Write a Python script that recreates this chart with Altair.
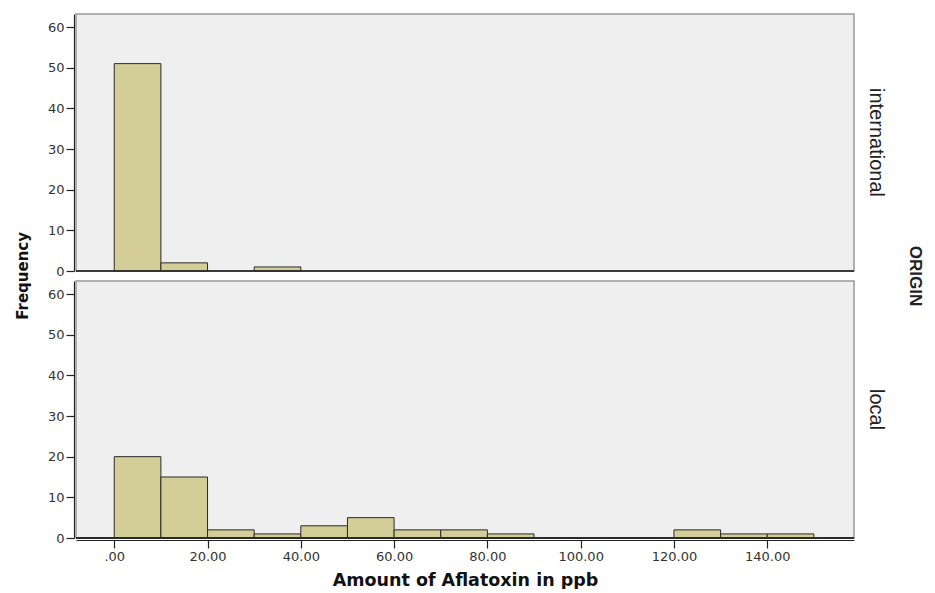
import altair as alt
import pandas as pd

# ---- data (bin width 10 ppb) ----
intl_bin_start = [0, 10, 30]
intl_frequency = [51, 2, 1]
local_bin_start = [0, 10, 20, 30, 40, 50, 60, 70, 80, 120, 130, 140]
local_frequency = [20, 15, 2, 1, 3, 5, 2, 2, 1, 2, 1, 1]
bin_width = 10
x_ticks = [0, 20, 40, 60, 80, 100, 120, 140]
y_ticks = [0, 10, 20, 30, 40, 50, 60]

rows = []
for s, f in zip(intl_bin_start, intl_frequency):
    rows.append({"origin": "international", "bin_start": s, "bin_end": s + bin_width, "frequency": f})
for s, f in zip(local_bin_start, local_frequency):
    rows.append({"origin": "local", "bin_start": s, "bin_end": s + bin_width, "frequency": f})
df = pd.DataFrame(rows)

bars = alt.Chart().mark_rect(
    fill="#d3ce97", stroke="#2a2a2a", strokeWidth=1
).encode(
    x=alt.X(
        "bin_start:Q",
        scale=alt.Scale(domain=[-8.2, 158.6], nice=False, zero=False),
        axis=alt.Axis(
            values=x_ticks,
            labelExpr="datum.value == 0 ? '.00' : format(datum.value, '.2f')",
            title="Amount of Aflatoxin in ppb",
        ),
    ),
    x2="bin_end:Q",
    y=alt.Y(
        "frequency:Q",
        scale=alt.Scale(domain=[0, 63.2], nice=False),
        axis=alt.Axis(values=y_ticks, title=None),
    ),
    y2=alt.datum(0),
)

baseline = alt.Chart().mark_rule(color="#2a2a2a", strokeWidth=1.2).encode(y=alt.datum(0))

chart = (
    alt.layer(bars, baseline, data=df)
    .properties(width=778, height=257)
    .facet(
        row=alt.Row(
            "origin:N",
            title="ORIGIN",
            header=alt.Header(
                labelOrient="right",
                labelAngle=90,
                labelFont="Liberation Sans",
                labelFontSize=20,
                labelColor="#222222",
                labelPadding=10,
                titleOrient="right",
                titleAngle=90,
                titleFont="Liberation Sans",
                titleFontSize=17,
                titleFontWeight="bold",
                titleColor="#222222",
                titlePadding=10,
            ),
        ),
        spacing=7,
    )
    .properties(
        title=alt.TitleParams(
            "Frequency",
            orient="left",
            anchor="middle",
            font="DejaVu Sans",
            fontSize=15,
            fontWeight="bold",
            color="#111111",
            offset=16,
            dx=25,
        )
    )
    .configure(padding={"left": 8, "top": 5, "right": 0, "bottom": 0})
    .configure_view(stroke="#9a9a9a", strokeWidth=1.5, fill="#efefef")
    .configure_axis(
        grid=False,
        domainColor="#222222",
        domainWidth=1.2,
        tickColor="#222222",
        tickWidth=1.2,
        tickSize=8,
        labelFont="DejaVu Sans",
        labelFontSize=13,
        labelColor="#333333",
        labelPadding=2,
        titleFont="DejaVu Sans",
        titleFontSize=17.5,
        titleFontWeight="bold",
        titleColor="#111111",
        titlePadding=8,
    )
)

chart.save("out.html", embed_options={"renderer": "svg", "actions": False})
